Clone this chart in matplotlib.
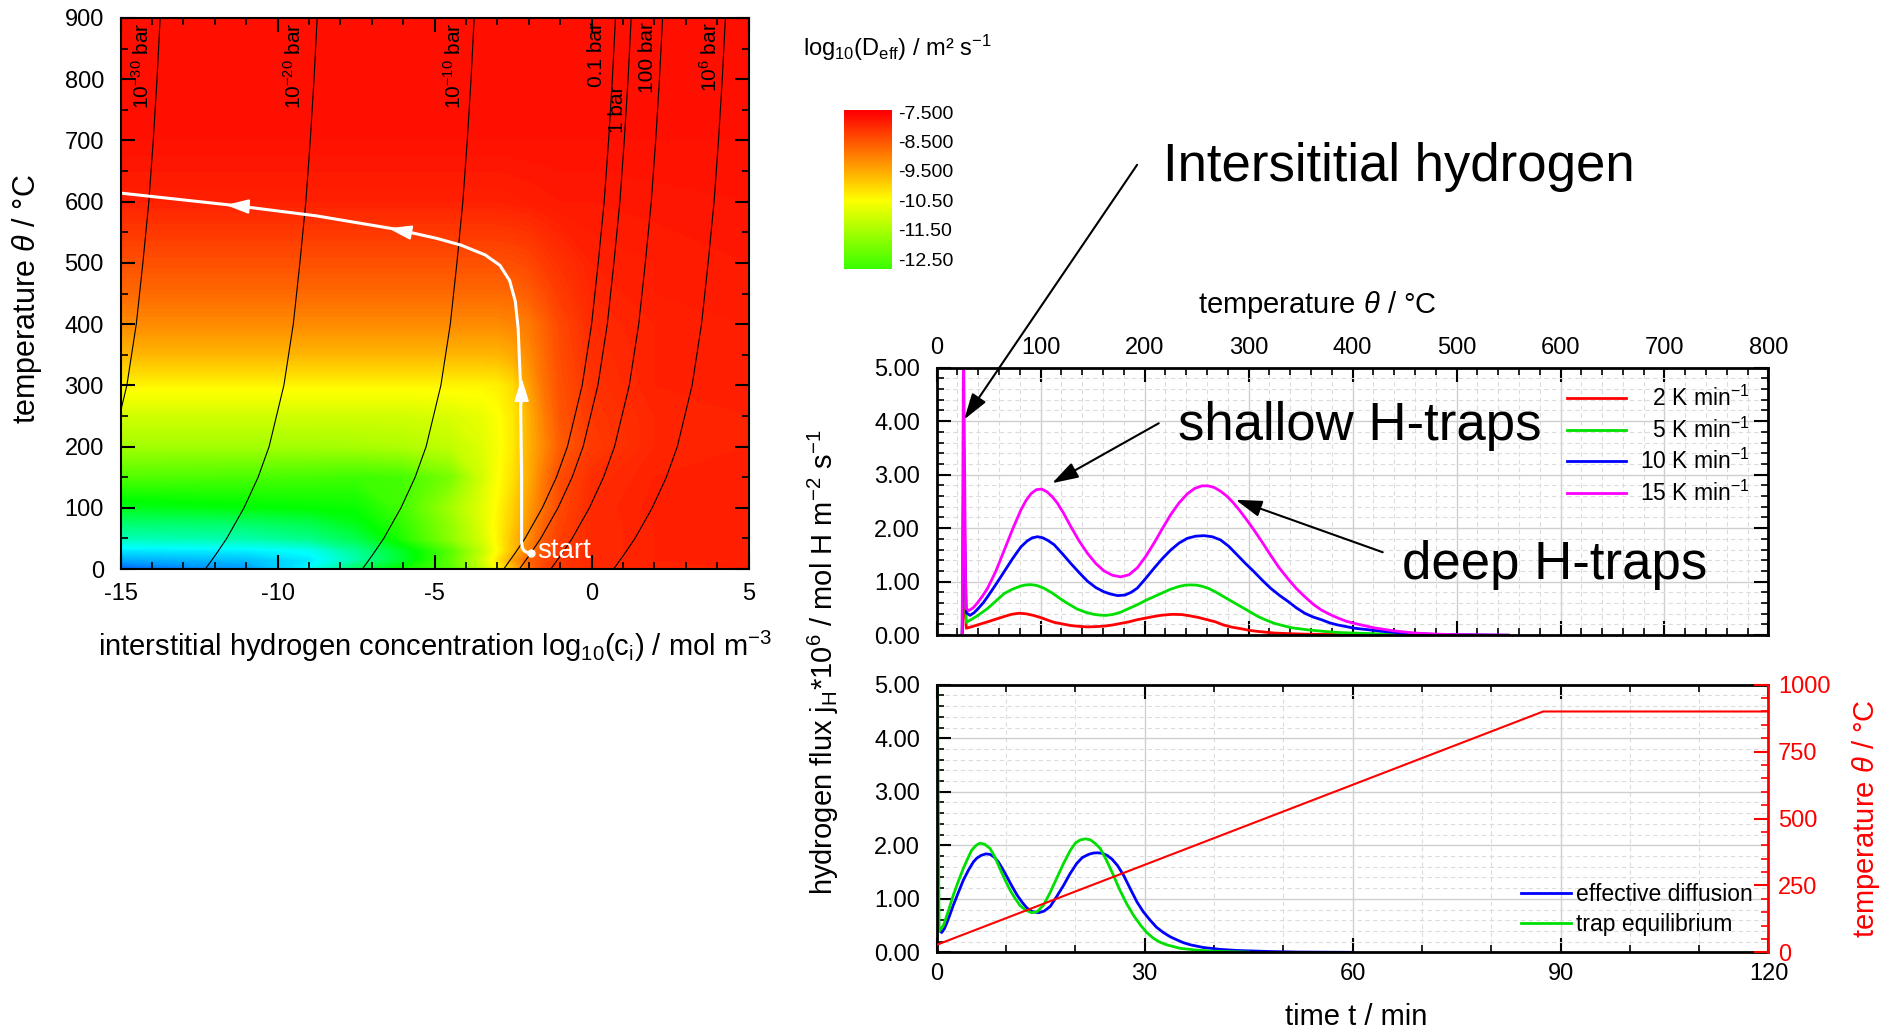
import numpy as np
import matplotlib
matplotlib.use('Agg')
import matplotlib.pyplot as plt
from matplotlib import colors
from matplotlib.ticker import MultipleLocator, FormatStrFormatter

plt.rcParams['font.family'] = ['Liberation Sans', 'DejaVu Sans']
plt.rcParams['mathtext.fontset'] = 'custom'
plt.rcParams['mathtext.rm'] = 'Liberation Sans'
plt.rcParams['mathtext.it'] = 'Liberation Sans:italic'
plt.rcParams['mathtext.bf'] = 'Liberation Sans:bold'
plt.rcParams['axes.unicode_minus'] = False

# ---------------- left map: log10(Deff) over log10(ci) and temperature ----------------
logc_nodes = [-15, -11, -9, -7.5, -6, -4.5, -3.5, -3, -2.5, -2, -1.5, -1, 0, 2, 5]
temp_nodes = [0, 15, 30, 50, 75, 100, 150, 200, 250, 300, 350, 400, 450, 500, 600, 700, 900]
log_deff = [
    [-18.35, -17.75, -16.5, -14.6, -13.35, -12.5, -11.25, -10.5, -9.75, -8.85, -8.3, -8.15, -8.0, -7.9, -7.9],
    [-17.5, -17.25, -16.75, -15.5, -14.0, -12.4, -11.1, -10.25, -9.4, -8.7, -8.35, -8.15, -8.0, -7.9, -7.85],
    [-16.8, -16.7, -16.4, -15.25, -13.9, -12.5, -11.25, -10.5, -9.75, -9.0, -8.5, -8.2, -8.0, -7.9, -7.85],
    [-15.65, -15.5, -15.1, -14.4, -13.1, -11.85, -11.0, -10.4, -9.75, -9.15, -8.55, -8.25, -8.0, -7.9, -7.85],
    [-14.8, -14.7, -14.4, -13.75, -12.9, -11.8, -10.9, -10.4, -9.9, -9.25, -8.65, -8.3, -8.0, -7.9, -7.85],
    [-13.85, -13.6, -13.5, -13.4, -12.7, -11.6, -10.85, -10.45, -9.95, -9.35, -8.8, -8.35, -8.0, -7.875, -7.85],
    [-12.55, -12.65, -12.7, -12.8, -12.7, -12.1, -11.05, -10.55, -10.15, -9.55, -8.9, -8.4, -8.05, -7.9, -7.85],
    [-11.6, -11.6, -11.6, -11.55, -11.45, -11.25, -10.9, -10.6, -10.25, -9.6, -9.1, -8.6, -8.2, -7.95, -7.9],
    [-11.05, -11.05, -11.05, -11.05, -11.05, -10.95, -10.75, -10.55, -10.25, -9.6, -9.0, -8.5, -8.15, -7.95, -7.9],
    [-10.4, -10.4, -10.4, -10.4, -10.4, -10.4, -10.4, -10.35, -10.1, -9.4, -8.85, -8.45, -8.1, -7.9, -7.85],
    [-9.65, -9.65, -9.65, -9.65, -9.65, -9.65, -9.65, -9.65, -9.5, -9.15, -8.75, -8.4, -8.05, -7.9, -7.85],
    [-9.15, -9.15, -9.15, -9.15, -9.15, -9.15, -9.15, -9.15, -9.07, -8.95, -8.65, -8.35, -8.0, -7.9, -7.85],
    [-8.75, -8.75, -8.75, -8.75, -8.75, -8.75, -8.75, -8.75, -8.72, -8.6, -8.4, -8.2, -7.95, -7.85, -7.8],
    [-8.45, -8.45, -8.45, -8.45, -8.45, -8.45, -8.45, -8.45, -8.42, -8.35, -8.2, -8.08, -7.9, -7.85, -7.8],
    [-7.9, -7.9, -7.9, -7.9, -7.9, -7.9, -7.9, -7.9, -7.875, -7.85, -7.825, -7.8, -7.8, -7.775, -7.75],
    [-7.7] * 15,
    [-7.65] * 15,
]

# isobars (Sieverts): 1 bar line, shifted per pressure
isobar_T = [0, 25, 50, 100, 150, 200, 300, 400, 500, 600, 700, 800, 900]
isobar_c_1bar = [-2.3, -1.95, -1.62, -1.07, -0.62, -0.27, 0.2, 0.5, 0.71, 0.9, 1.04, 1.16, 1.26]
isobar_shift = [-15, -10, -5, -0.5, 0, 1, 3]
isobar_labels = ['10$^{-30}$ bar', '10$^{-20}$ bar', '10$^{-10}$ bar', '0.1 bar', '1 bar', '100 bar', '10$^{6}$ bar']
label_c = [-14.31, -9.47, -4.39, 0.14, 0.84, 1.78, 3.75]
label_top = [893, 893, 893, 893, 790, 893, 893]

# white loading/heating path
path_c = [-1.92, -2.05, -2.15, -2.21, -2.23, -2.23, -2.27, -2.34, -2.43, -2.61, -2.92, -3.39, -4.16, -4.93, -6.24, -8.79, -11.42, -15.0]
path_T = [26, 27, 30, 35, 45, 150, 306, 393, 437, 471, 496, 513, 529, 540, 555, 577, 594, 614]

cbar_range = [-12.83, -7.42]
cbar_ticks = [-7.5, -8.5, -9.5, -10.5, -11.5, -12.5]
cbar_ticklabels = ['-7.500', '-8.500', '-9.500', '-10.50', '-11.50', '-12.50']

# ---------------- TDS spectra vs temperature ----------------
rate_labels = ['  2 K min$^{-1}$', '  5 K min$^{-1}$', '10 K min$^{-1}$', '15 K min$^{-1}$']
rate_colors = ['#ff0000', '#00e000', '#0000ff', '#ff00ff']
r2_T = [24.5, 25.8, 28.5, 34, 39, 44, 49, 57, 65, 72, 79, 86, 93, 100, 107, 113, 121, 129, 137, 145,
        153, 161, 169, 177, 185, 193, 201, 209, 217, 227, 236, 244, 252, 260, 268, 276, 284, 293, 301, 309,
        317, 325, 340, 354, 378, 402, 450, 500]
r2_j = [0, 0.9, 0.13, 0.16, 0.19, 0.22, 0.25, 0.3, 0.35, 0.39, 0.41, 0.4, 0.37, 0.33, 0.28, 0.24, 0.21, 0.18, 0.165, 0.155,
        0.16, 0.17, 0.19, 0.22, 0.25, 0.29, 0.32, 0.35, 0.375, 0.39, 0.385, 0.36, 0.33, 0.29, 0.25, 0.19, 0.15, 0.12, 0.09, 0.07,
        0.055, 0.04, 0.028, 0.02, 0.013, 0.01, 0.005, 0.0]
r5_T = [24.5, 25.8, 28.5, 33, 39, 44, 49, 57, 65, 73, 81, 86, 90.5, 96, 103, 111, 119, 127, 135, 143,
        151, 157, 163, 170, 177, 185, 193, 201, 209, 217, 225, 233, 239, 244, 250, 256, 262, 268, 276, 284,
        293, 301, 309, 317, 325, 333, 341, 349, 357, 365, 373, 387, 402, 425, 450, 475, 500]
r5_j = [0, 1.6, 0.24, 0.29, 0.36, 0.43, 0.5, 0.64, 0.78, 0.86, 0.92, 0.94, 0.945, 0.93, 0.88, 0.79, 0.68, 0.58, 0.49, 0.43,
        0.39, 0.375, 0.37, 0.39, 0.43, 0.5, 0.57, 0.65, 0.72, 0.79, 0.86, 0.91, 0.935, 0.94, 0.935, 0.91, 0.87, 0.81, 0.72, 0.63,
        0.53, 0.44, 0.35, 0.28, 0.22, 0.18, 0.14, 0.12, 0.1, 0.085, 0.07, 0.05, 0.04, 0.025, 0.015, 0.007, 0.0]
r10_T = [24.5, 25.8, 28.5, 32, 36, 40, 45, 49, 57, 65, 73, 81, 87, 92, 97, 102, 107, 113, 121, 129,
         137, 145, 153, 161, 167, 174, 181, 187, 193, 201, 209, 217, 225, 233, 241, 249, 257, 265, 273, 281,
         289, 297, 305, 313, 321, 330, 338, 346, 354, 362, 370, 378, 386, 394, 402, 416, 430, 445, 460, 480,
         500, 550]
r10_j = [0, 2.9, 0.42, 0.37, 0.42, 0.5, 0.61, 0.72, 0.95, 1.19, 1.43, 1.65, 1.76, 1.82, 1.84, 1.82, 1.77, 1.69, 1.52, 1.34,
         1.17, 1.01, 0.89, 0.81, 0.77, 0.74, 0.75, 0.8, 0.88, 1.06, 1.25, 1.43, 1.59, 1.72, 1.81, 1.85, 1.86, 1.84, 1.78, 1.66,
         1.5, 1.34, 1.19, 1.03, 0.88, 0.74, 0.63, 0.51, 0.41, 0.34, 0.29, 0.23, 0.19, 0.16, 0.13, 0.1, 0.07, 0.045, 0.03, 0.015,
         0.01, 0.0]
r15_T = [24.5, 25.8, 28, 31, 35, 39, 44, 49, 57, 65, 73, 81, 86, 91, 96, 101, 106, 111, 116, 122,
         129, 137, 145, 153, 161, 169, 177, 185, 193, 201, 209, 217, 225, 233, 241, 248, 255, 261, 267, 273,
         279, 285, 291, 298, 305, 313, 321, 329, 338, 346, 354, 362, 370, 378, 386, 394, 402, 420, 440, 460,
         480, 500, 550]
r15_j = [0, 5.6, 0.5, 0.46, 0.51, 0.6, 0.73, 0.88, 1.2, 1.59, 1.98, 2.34, 2.52, 2.65, 2.72, 2.73, 2.68, 2.59, 2.47, 2.28,
         2.03, 1.76, 1.53, 1.34, 1.2, 1.12, 1.09, 1.13, 1.26, 1.47, 1.72, 1.99, 2.25, 2.47, 2.64, 2.74, 2.79, 2.79, 2.76, 2.69,
         2.6, 2.48, 2.34, 2.16, 1.97, 1.74, 1.5, 1.27, 1.05, 0.87, 0.72, 0.58, 0.47, 0.39, 0.32, 0.26, 0.22, 0.14, 0.08, 0.04,
         0.02, 0.01, 0.0]

# ---------------- model comparison vs time ----------------
eff_t = [0.15, 0.72, 1.1, 1.44, 1.9, 2.4, 3.1, 3.85, 4.6, 5.3, 5.8, 6.4, 7.1, 7.7, 8.3, 8.9, 9.5, 10.1, 10.8, 11.6,
         12.3, 13.0, 13.8, 14.7, 15.5, 16.4, 17.3, 18.3, 19.2, 20.2, 21.0, 21.9, 22.6, 23.2, 23.9, 24.6, 25.3, 26.1, 27.0, 28.0,
         28.9, 29.8, 30.8, 31.7, 32.7, 33.7, 34.7, 35.6, 36.6, 38.5, 40.9, 43.3, 48.1, 52, 60]
eff_j = [0.45, 0.37, 0.44, 0.54, 0.7, 0.88, 1.11, 1.35, 1.54, 1.69, 1.76, 1.81, 1.84, 1.83, 1.78, 1.69, 1.56, 1.42, 1.25, 1.07,
         0.94, 0.83, 0.76, 0.74, 0.77, 0.86, 1.04, 1.25, 1.46, 1.66, 1.77, 1.83, 1.855, 1.86, 1.85, 1.81, 1.74, 1.62, 1.43, 1.17,
         0.94, 0.76, 0.6, 0.47, 0.37, 0.29, 0.23, 0.18, 0.14, 0.09, 0.055, 0.035, 0.015, 0.005, 0]
teq_t = [0, 0.1, 0.35, 1.0, 1.7, 2.4, 3.1, 3.85, 4.5, 5.06, 5.7, 6.26, 6.9, 7.7, 8.4, 9.1, 9.8, 10.6, 11.3, 12.0,
         12.8, 13.7, 14.5, 15.4, 16.3, 17.3, 18.3, 19.3, 20.0, 20.7, 21.5, 22.2, 22.9, 23.6, 24.5, 25.5, 26.4, 27.4, 28.4, 29.4,
         30.3, 31.3, 32.2, 33.2, 35.1, 37.6, 40, 45]
teq_j = [0, 5.3, 0.39, 0.51, 0.78, 1.07, 1.32, 1.57, 1.76, 1.91, 2.0, 2.04, 2.02, 1.94, 1.78, 1.57, 1.37, 1.16, 1.01, 0.88,
         0.79, 0.74, 0.76, 0.88, 1.1, 1.38, 1.66, 1.91, 2.04, 2.1, 2.12, 2.1, 2.03, 1.94, 1.72, 1.44, 1.17, 0.91, 0.69, 0.51,
         0.37, 0.26, 0.19, 0.14, 0.075, 0.04, 0.02, 0.005]
ramp_t = [0, 87.5, 120]
ramp_T = [28, 900, 900]

# colormap: rainbow, linear in hue (blue -> red)
hues = np.linspace(220 / 360, 0, 512)
rgb = colors.hsv_to_rgb(np.stack([hues, np.ones_like(hues), np.ones_like(hues)], axis=1))
cmap = colors.ListedColormap(rgb)
norm = colors.Normalize(-18.5, -7.5)

fig = plt.figure(figsize=(18.9, 10.32), dpi=100)


def style_ticks(ax, size=17):
    ax.tick_params(which='both', direction='in', top=True, right=True, labelsize=size)
    ax.tick_params(which='major', length=10, width=1.5)
    ax.tick_params(which='minor', length=5, width=1.2)


# ---------- left map ----------
ax1 = fig.add_axes([0.0638, 0.4486, 0.3323, 0.534])
ax1.contourf(logc_nodes, temp_nodes, log_deff, levels=np.linspace(-18.5, -7.5, 221),
             cmap=cmap, norm=norm, antialiased=False)
for shift, lab, lc, lt in zip(isobar_shift, isobar_labels, label_c, label_top):
    ax1.plot(np.array(isobar_c_1bar) + shift, isobar_T, color='k', lw=0.8)
    ax1.text(lc, lt, lab, rotation=90, ha='center', va='top', fontsize=15)

ax1.plot(path_c, path_T, color='white', lw=2.2, solid_capstyle='round')
ax1.plot(path_c[0], path_T[0], 'o', color='white', ms=5)
arrow_kw = dict(arrowstyle='-|>,head_length=0.7,head_width=0.22', color='white', lw=1.5,
                mutation_scale=20, shrinkA=0, shrinkB=0)
ax1.annotate('', xy=(-2.23, 312), xytext=(-2.23, 270), arrowprops=arrow_kw)
ax1.annotate('', xy=(-11.65, 594.5), xytext=(-10.9, 592), arrowprops=arrow_kw)
ax1.annotate('', xy=(-6.47, 556.5), xytext=(-5.8, 550), arrowprops=arrow_kw)
ax1.text(-1.72, 30, 'start', color='white', fontsize=20, va='center', ha='left')

ax1.set_xlim(-15, 5)
ax1.set_ylim(0, 900)
ax1.xaxis.set_major_locator(MultipleLocator(5))
ax1.xaxis.set_minor_locator(MultipleLocator(1))
ax1.yaxis.set_major_locator(MultipleLocator(100))
ax1.yaxis.set_minor_locator(MultipleLocator(50))
style_ticks(ax1)
ax1.tick_params(axis='y', pad=12)
ax1.tick_params(axis='x', pad=10)
for s in ax1.spines.values():
    s.set_linewidth(1.5)
ax1.set_xlabel('interstitial hydrogen concentration log$_{10}$(c$_\\mathrm{i}$) / mol m$^{-3}$', fontsize=21)
ax1.xaxis.set_label_coords(0.5, -0.108)
ax1.set_ylabel('temperature $\\theta$ / °C', fontsize=22)
ax1.yaxis.set_label_coords(-0.122, 0.49)

# ---------- colour bar ----------
cax = fig.add_axes([0.4465, 0.7395, 0.0249, 0.1542])
grad = np.linspace(cbar_range[0], cbar_range[1], 300).reshape(-1, 1)
cax.imshow(grad, aspect='auto', cmap=cmap, norm=norm, origin='lower',
           extent=[0, 1, cbar_range[0], cbar_range[1]])
cax.set_xticks([])
cax.set_yticks(cbar_ticks)
cax.set_yticklabels(cbar_ticklabels)
cax.yaxis.tick_right()
cax.tick_params(axis='y', length=0, pad=5, labelsize=14)
for s in cax.spines.values():
    s.set_visible(False)
fig.text(803 / 1890, 1 - 48 / 1032, 'log$_{10}$(D$_\\mathrm{eff}$) / m² s$^{-1}$', fontsize=17,
         ha='left', va='center')

# ---------- top right: desorption spectra ----------
ax2 = fig.add_axes([0.4956, 0.3845, 0.4401, 0.2593])
ax2.set_axisbelow(True)
ax2.grid(which='major', color='#cfcfcf', lw=1.0)
ax2.grid(which='minor', color='#dcdcdc', lw=0.8, ls=(0, (4, 3)))
for T, j, lab, c in zip([r2_T, r5_T, r10_T, r15_T], [r2_j, r5_j, r10_j, r15_j], rate_labels, rate_colors):
    ax2.plot(T, j, color=c, lw=2.0, label=lab)
ax2.set_xlim(0, 800)
ax2.set_ylim(0, 5)
ax2.xaxis.set_major_locator(MultipleLocator(100))
ax2.xaxis.set_minor_locator(MultipleLocator(20))
ax2.yaxis.set_major_locator(MultipleLocator(1))
ax2.yaxis.set_minor_locator(MultipleLocator(0.2))
ax2.yaxis.set_major_formatter(FormatStrFormatter('%.2f'))
style_ticks(ax2)
ax2.tick_params(axis='x', labeltop=True, labelbottom=False, pad=6)
ax2.tick_params(axis='y', pad=12)
for s in ax2.spines.values():
    s.set_linewidth(2)
ax2.xaxis.set_label_position('top')
ax2.set_xlabel('temperature $\\theta$ / °C', fontsize=21)
ax2.xaxis.set_label_coords(0.458, 1.205)
ax2.legend(loc='upper right', frameon=False, fontsize=16.5, handlelength=2.6, handletextpad=0.6,
           labelspacing=0.28, borderaxespad=0.4)

ann_kw = dict(arrowstyle='-|>,head_length=0.8,head_width=0.25', color='k', lw=1.5,
              mutation_scale=20, shrinkA=0, shrinkB=0)
ax2.annotate('', xy=(26.4, 4.03), xytext=(192.8, 8.79), arrowprops=ann_kw, annotation_clip=False)
ax2.annotate('', xy=(111, 2.84), xytext=(213.6, 3.96), arrowprops=ann_kw, annotation_clip=False)
ax2.annotate('', xy=(287.5, 2.53), xytext=(429, 1.55), arrowprops=ann_kw, annotation_clip=False)
ax2.text(217.8, 8.75, 'Intersititial hydrogen', fontsize=38, ha='left', va='center')
ax2.text(231.9, 3.9, 'shallow H-traps', fontsize=38, ha='left', va='center')
ax2.text(447.6, 1.32, 'deep H-traps', fontsize=38, ha='left', va='center')

# ---------- bottom right: model comparison ----------
ax3 = fig.add_axes([0.4956, 0.0772, 0.4401, 0.2593])
ax3.set_axisbelow(True)
ax3.grid(which='major', color='#cfcfcf', lw=1.0)
ax3.grid(which='minor', color='#dcdcdc', lw=0.8, ls=(0, (4, 3)))
ax3.plot(eff_t, eff_j, color='#0000ff', lw=2.0, label='effective diffusion')
ax3.plot(teq_t, teq_j, color='#00e000', lw=2.0, label='trap equilibrium')
ax3.set_xlim(0, 120)
ax3.set_ylim(0, 5)
ax3.xaxis.set_major_locator(MultipleLocator(30))
ax3.xaxis.set_minor_locator(MultipleLocator(10))
ax3.yaxis.set_major_locator(MultipleLocator(1))
ax3.yaxis.set_minor_locator(MultipleLocator(0.2))
ax3.yaxis.set_major_formatter(FormatStrFormatter('%.2f'))
style_ticks(ax3)
ax3.tick_params(which='both', right=False)
ax3.tick_params(axis='y', pad=12)
ax3.tick_params(axis='x', pad=8)
for s in ax3.spines.values():
    s.set_linewidth(2)
ax3.spines['right'].set_visible(False)
ax3.set_xlabel('time t / min', fontsize=21)
ax3.xaxis.set_label_coords(0.504, -0.19)
ax3.legend(loc='lower right', frameon=False, fontsize=16.5, handlelength=2.2, handletextpad=0.2,
           labelspacing=0.3, borderaxespad=0.3)

ax4 = ax3.twinx()
ax4.plot(ramp_t, ramp_T, color='#ff0000', lw=1.5)
ax4.set_ylim(0, 1000)
ax4.set_xlim(0, 120)
ax4.yaxis.set_major_locator(MultipleLocator(250))
ax4.yaxis.set_minor_locator(MultipleLocator(50))
ax4.tick_params(which='both', direction='in', colors='#ff0000', labelsize=17, pad=7)
ax4.tick_params(which='major', length=10, width=1.5)
ax4.tick_params(which='minor', length=5, width=1.2)
for k in ['left', 'top', 'bottom']:
    ax4.spines[k].set_visible(False)
ax4.spines['right'].set_color('#ff0000')
ax4.spines['right'].set_linewidth(2)
ax4.set_ylabel('temperature $\\theta$ / °C', fontsize=21, color='#ff0000')
ax4.yaxis.set_label_coords(1.098, 0.5)

fig.text(823 / 1890, 1 - 662 / 1032, 'hydrogen flux j$_\\mathrm{H}$*10$^6$ / mol H m$^{-2}$ s$^{-1}$',
         rotation=90, ha='center', va='center', fontsize=21)

fig.savefig('out.png', dpi=100)
